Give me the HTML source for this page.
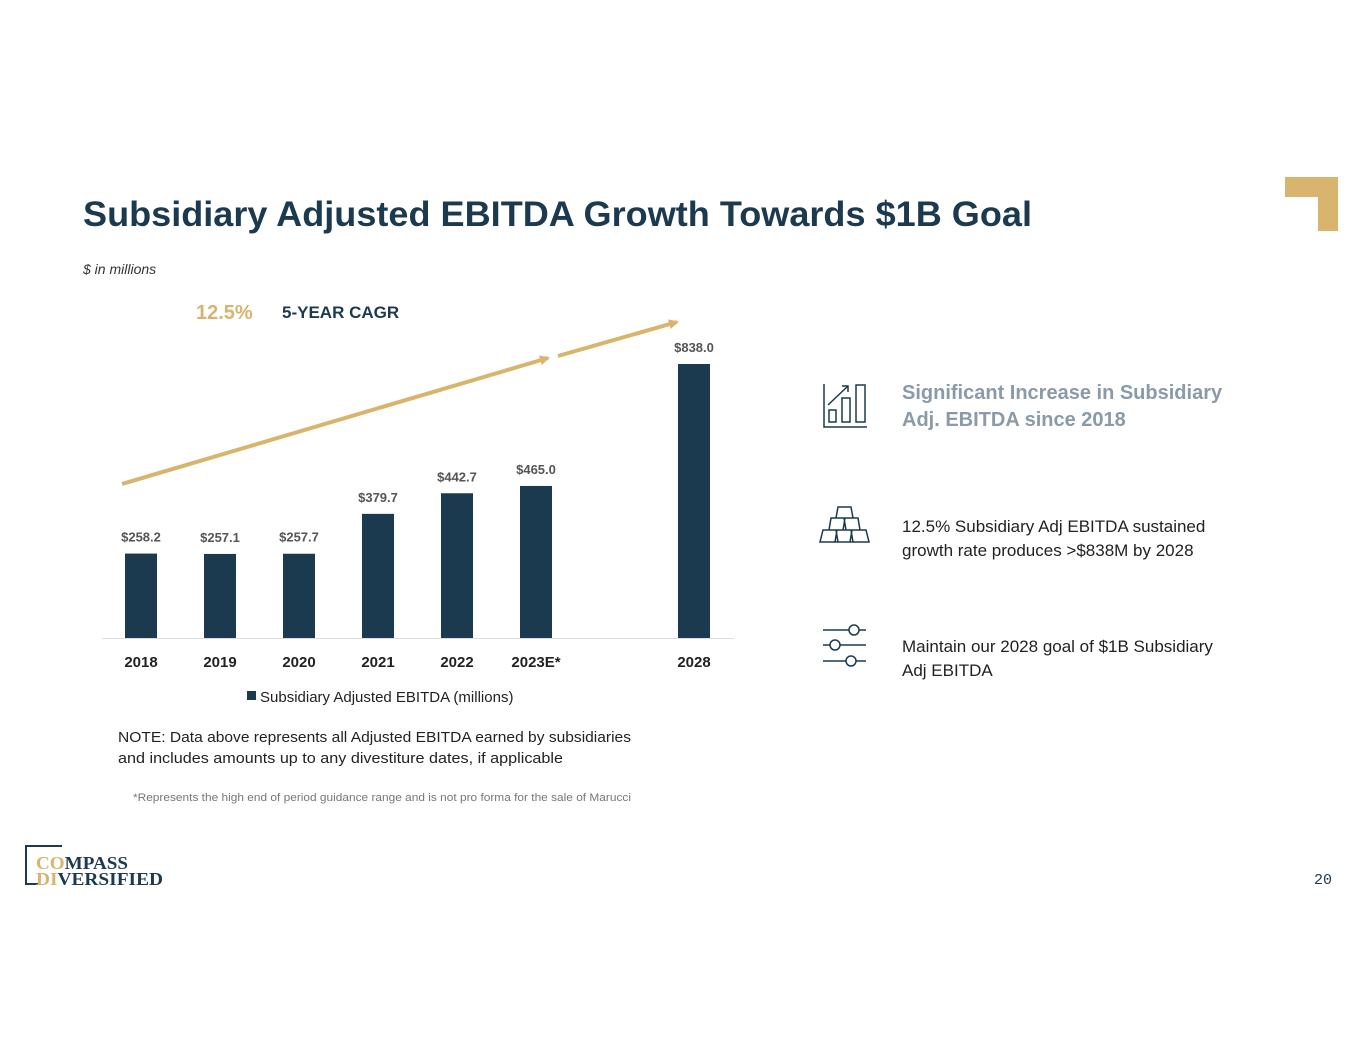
<!DOCTYPE html>
<html><head><meta charset="utf-8"><style>
html,body{margin:0;padding:0;background:#fff;}
svg{display:block;font-family:"Liberation Sans",sans-serif;}
</style></head><body>
<svg id="s" width="1365" height="1055" viewBox="0 0 1365 1055">
<defs><marker id="ah" markerWidth="10" markerHeight="10" refX="8" refY="5" orient="auto" markerUnits="userSpaceOnUse"><path d="M0,0 L10,5 L0,10 z" fill="#d8b46c"/></marker></defs>
<path d="M1285,177 H1338 V231 H1318 V197 H1285 z" fill="#d8b46c"/>
<text x="83" y="226" font-size="35" font-weight="bold" fill="#1c3a4f" textLength="949" lengthAdjust="spacingAndGlyphs">Subsidiary Adjusted EBITDA Growth Towards $1B Goal</text>
<text x="83" y="274" font-size="14" font-style="italic" fill="#333">$ in millions</text>
<text x="196" y="319" font-size="20" font-weight="bold" fill="#d8b46c">12.5%</text>
<text x="282" y="318" font-size="17" font-weight="bold" fill="#1c3a4f">5-YEAR CAGR</text>
<line x1="122" y1="484" x2="548" y2="358" stroke="#d8b46c" stroke-width="4" marker-end="url(#ah)"/>
<line x1="558" y1="356" x2="677" y2="322" stroke="#d8b46c" stroke-width="4" marker-end="url(#ah)"/>
<line x1="102" y1="638.5" x2="734" y2="638.5" stroke="#ddd" stroke-width="1"/>
<g id="bars"></g>
<rect x="247" y="691" width="9" height="9" fill="#1c3a4f"/>
<text x="260" y="702" font-size="15" fill="#222">Subsidiary Adjusted EBITDA (millions)</text>
<text x="118" y="742" font-size="15" fill="#222" textLength="513" lengthAdjust="spacingAndGlyphs">NOTE: Data above represents all Adjusted EBITDA earned by subsidiaries</text>
<text x="118" y="763" font-size="15" fill="#222" textLength="445" lengthAdjust="spacingAndGlyphs">and includes amounts up to any divestiture dates, if applicable</text>
<text x="133" y="801" font-size="11" fill="#777" textLength="498" lengthAdjust="spacingAndGlyphs">*Represents the high end of period guidance range and is not pro forma for the sale of Marucci</text>
<g fill="none" stroke="#1c3a4f" stroke-width="1.5">
<path d="M824,384 V427 H867"/><rect x="829" y="410" width="7" height="12"/><rect x="842" y="398" width="8" height="24"/><rect x="856" y="385" width="9" height="37"/><path d="M828,405 L848,386 M842,386 H848 V392"/></g>
<g fill="none" stroke="#1c3a4f" stroke-width="1.5">
<path d="M838,507 H851 L853,518 H836 z M831,518 H844 L846,530 H829 z M845,518 H858 L860,530 H843 z M823,530 H836 L838,542 H820 z M837,530 H851 L853,542 H835 z M852,530 H866 L869,542 H850 z"/></g>
<g stroke="#1c3a4f" stroke-width="1.5" fill="#fff">
<line x1="823" y1="630" x2="866" y2="630"/><circle cx="854" cy="630" r="5"/>
<line x1="823" y1="645" x2="866" y2="645"/><circle cx="835" cy="645" r="5"/>
<line x1="823" y1="661" x2="866" y2="661"/><circle cx="851" cy="661" r="5"/></g>
<text x="902" y="399" font-size="20" font-weight="bold" fill="#8a9aa8">Significant Increase in Subsidiary</text>
<text x="902" y="426" font-size="20" font-weight="bold" fill="#8a9aa8">Adj. EBITDA since 2018</text>
<text x="902" y="532" font-size="17" fill="#222">12.5% Subsidiary Adj EBITDA sustained</text>
<text x="902" y="556" font-size="17" fill="#222">growth rate produces &gt;$838M by 2028</text>
<text x="902" y="652" font-size="17" fill="#222">Maintain our 2028 goal of $1B Subsidiary</text>
<text x="902" y="676" font-size="17" fill="#222">Adj EBITDA</text>
<g>
<path d="M62,846 H26 V884 H38" fill="none" stroke="#1c3a4f" stroke-width="2"/>
<text x="36" y="869" font-size="18" font-weight="bold" font-family="Liberation Serif,serif" fill="#d8b46c" textLength="92" lengthAdjust="spacingAndGlyphs">CO<tspan fill="#1c3a4f">MPASS</tspan></text>
<text x="36" y="885" font-size="18" font-weight="bold" font-family="Liberation Serif,serif" fill="#d8b46c" textLength="127" lengthAdjust="spacingAndGlyphs">DI<tspan fill="#1c3a4f">VERSIFIED</tspan></text></g>
<text x="1332" y="884" font-size="15" font-family="Liberation Mono,monospace" text-anchor="end" fill="#1c3a4f">20</text>
</svg>
<script>
const categories=["2018","2019","2020","2021","2022","2023E*","2028"];
const slots=[0,1,2,3,4,5,7];
const values=[258.2,257.1,257.7,379.7,442.7,465.0,838.0];
const valueLabels=["$258.2","$257.1","$257.7","$379.7","$442.7","$465.0","$838.0"];
const NS="http://www.w3.org/2000/svg";
const g=document.getElementById("bars");
const xScale=i=>141+79*i;
const yScale=v=>638-v*(274/838);
function mk(t,a){const e=document.createElementNS(NS,t);for(const k in a)e.setAttribute(k,a[k]);return e;}
categories.forEach((c,i)=>{
const cx=xScale(slots[i]),y=yScale(values[i]);
const r=mk("rect",{x:cx-16,y:y,width:32,height:638-y,fill:"#1c3a4f"});


g.appendChild(r);
const l=mk("text",{x:cx,y:y-12,"font-size":13,"font-weight":"bold","text-anchor":"middle",fill:"#555"});
l.textContent=valueLabels[i];


g.appendChild(l);
const t=mk("text",{x:cx,y:667,"font-size":15,"font-weight":"bold","text-anchor":"middle",fill:"#222"});
t.textContent=c;


g.appendChild(t);
});
</script>
</body></html>
